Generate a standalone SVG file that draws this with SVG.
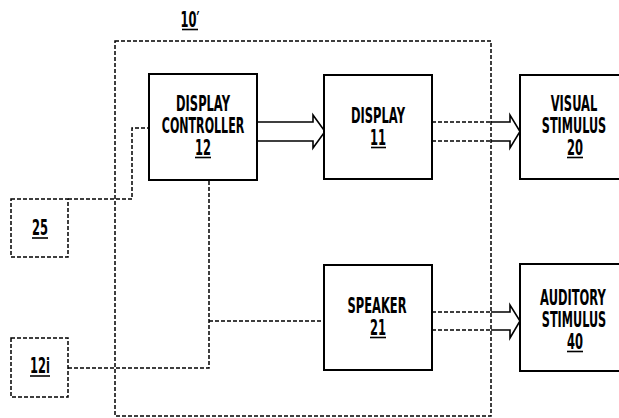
<svg xmlns="http://www.w3.org/2000/svg" width="619" height="418" viewBox="0 0 619 418">
<style>
.box{fill:#fff;stroke:#000;stroke-width:2}
.dbox{fill:none;stroke:#000;stroke-width:1.5;stroke-dasharray:4 2}
.dash{fill:none;stroke:#000;stroke-width:1.5;stroke-dasharray:4 2}
.solid{fill:none;stroke:#000;stroke-width:1.6;stroke-linejoin:miter}
.ul{stroke:#000;stroke-width:1.6}
text{font-family:"DejaVu Sans","Liberation Sans",sans-serif;font-weight:bold;font-size:20.5px;fill:#000;text-anchor:middle}
</style>
<rect width="619" height="418" fill="#fff"/>
<g id="system-10">
<rect class="dbox" x="115" y="41" width="376" height="375"/>
<text transform="translate(190,27) scale(0.56,1)">10′</text>
<line class="ul" x1="182" y1="29.5" x2="198" y2="29.5"/>
</g>
<g id="connectors">
<path class="dash" d="M68,199 H132 V128 H149"/>
<path class="dash" d="M68,368 H209 V180"/>
<path class="dash" d="M209,321 H324"/>
<path class="solid" d="M257,122 H313 V115 L325,131.5 L313,148 V141 H257"/>
<path class="dash" d="M432,122 H491 M432,141 H491"/>
<path class="solid" d="M491,122 H510 V115 L520,131.5 L510,148 V141 H491"/>
<path class="dash" d="M432,312 H491 M432,330 H491"/>
<path class="solid" d="M491,312 H510 V305 L520,321 L510,338 V330 H491"/>
</g>
<g id="node-25">
<rect class="dbox" x="11" y="199" width="57" height="58"/>
<text transform="translate(40,235) scale(0.56,1)">25</text>
<line class="ul" x1="32" y1="238" x2="48" y2="238"/>
</g>
<g id="node-12i">
<rect class="dbox" x="11" y="338" width="57" height="59"/>
<text transform="translate(40,373) scale(0.56,1)">12i</text>
<line class="ul" x1="30" y1="376" x2="50" y2="376"/>
</g>
<g id="node-12">
<rect class="box" x="149" y="74" width="108" height="106"/>
<text transform="translate(203,111) scale(0.56,1)">DISPLAY</text>
<text transform="translate(203,133) scale(0.54,1)">CONTROLLER</text>
<text transform="translate(203,155) scale(0.56,1)">12</text>
<line class="ul" x1="195" y1="157.5" x2="211" y2="157.5"/>
</g>
<g id="node-11">
<rect class="box" x="324" y="75" width="108" height="104"/>
<text transform="translate(378,123) scale(0.56,1)">DISPLAY</text>
<text transform="translate(378,145) scale(0.56,1)">11</text>
<line class="ul" x1="371" y1="147.5" x2="386" y2="147.5"/>
</g>
<g id="node-21">
<rect class="box" x="324" y="265" width="108" height="105"/>
<text transform="translate(377,313) scale(0.56,1)">SPEAKER</text>
<text transform="translate(378,335) scale(0.56,1)">21</text>
<line class="ul" x1="370" y1="337.5" x2="386" y2="337.5"/>
</g>
<g id="node-20">
<rect class="box" x="520" y="75" width="120" height="104"/>
<text transform="translate(574,111) scale(0.56,1)">VISUAL</text>
<text transform="translate(574,133) scale(0.55,1)">STIMULUS</text>
<text transform="translate(575,155) scale(0.56,1)">20</text>
<line class="ul" x1="567" y1="157.5" x2="583" y2="157.5"/>
</g>
<g id="node-40">
<rect class="box" x="520" y="264" width="120" height="107"/>
<text transform="translate(573,305) scale(0.56,1)">AUDITORY</text>
<text transform="translate(574,327) scale(0.55,1)">STIMULUS</text>
<text transform="translate(575,349) scale(0.56,1)">40</text>
<line class="ul" x1="567" y1="351.5" x2="583" y2="351.5"/>
</g>
</svg>
